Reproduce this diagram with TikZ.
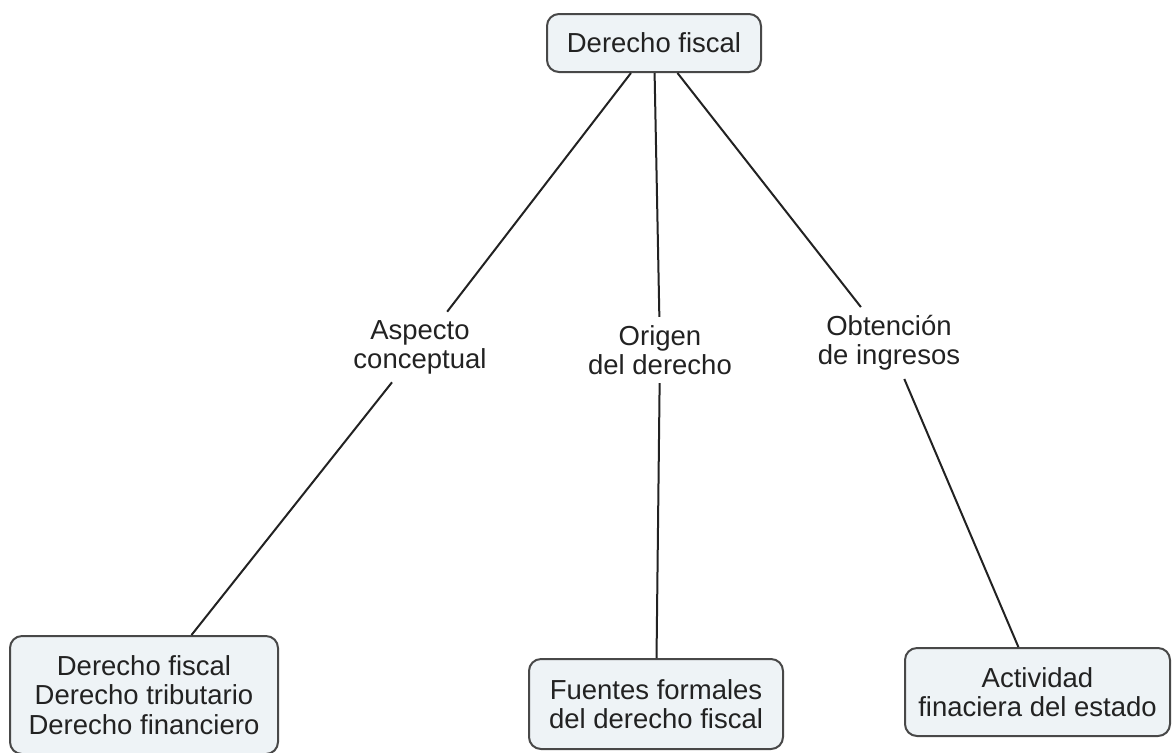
\documentclass[tikz,border=0pt]{standalone}
\usepackage{fontspec}
\setmainfont{Liberation Sans}
\usepackage{tikz}

\definecolor{boxfill}{HTML}{EEF3F6}
\definecolor{boxline}{HTML}{484848}
\definecolor{inkgray}{HTML}{222222}

\begin{document}
\begin{tikzpicture}[x=0.5pt, y=-0.5pt,
    every node/.style={font=\fontsize{13.75}{14.6}\selectfont, text=inkgray},
    concept/.style={draw=boxline, line width=1pt, fill=boxfill, rounded corners=6pt, align=center, inner sep=0pt},
    linklabel/.style={align=center, inner sep=4pt},
    link/.style={draw=inkgray, line width=1pt}]
    \useasboundingbox (0,0) rectangle (1172,752);

    % concepts
    \node[concept, minimum width=107pt, minimum height=29pt] (fiscal) at (654,43) {Derecho fiscal};
    \node[concept, minimum width=134pt, minimum height=59pt] (ramas) at (144,695) {Derecho fiscal\\Derecho tributario\\Derecho financiero};
    \node[concept, minimum width=127pt, minimum height=45pt] (fuentes) at (656,704) {Fuentes formales\\del derecho fiscal};
    \node[concept, minimum width=132.5pt, minimum height=44pt] (actividad) at (1037.5,692) {Actividad\\finaciera del estado};

    % link labels
    \node[linklabel] (aspecto) at (420,347) {Aspecto\\conceptual};
    \node[linklabel] (origen) at (660,350) {Origen\\del derecho};
    \node[linklabel] (obtencion) at (889,343) {Obtención\\de ingresos};

    \draw[link] (fiscal) -- (aspecto);
    \draw[link] (aspecto) -- (ramas);
    \draw[link] (fiscal) -- (origen);
    \draw[link] (origen) -- (fuentes);
    \draw[link] (fiscal) -- (obtencion);
    \draw[link] (obtencion) -- (actividad);
\end{tikzpicture}
\end{document}
